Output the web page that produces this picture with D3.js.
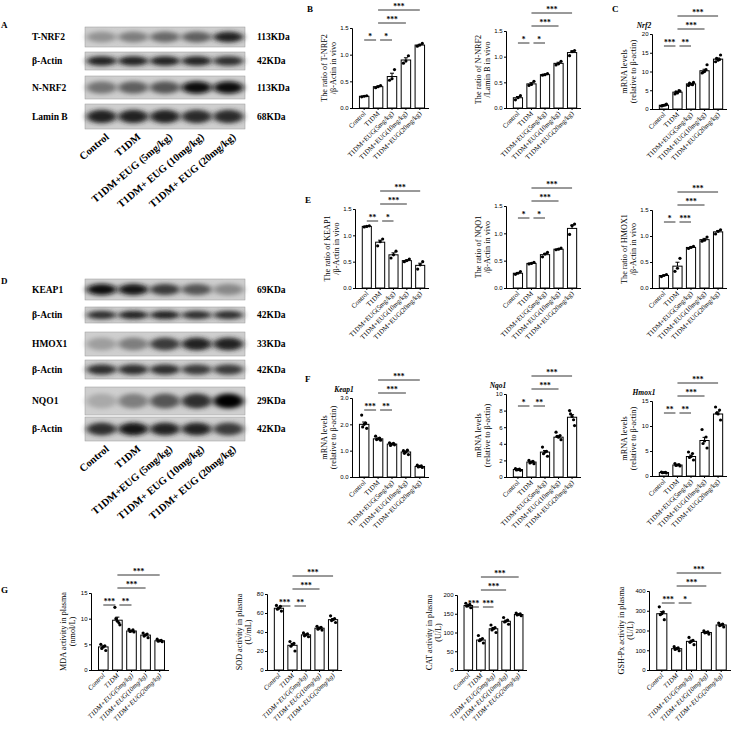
<!DOCTYPE html>
<html>
<head>
<meta charset="utf-8">
<script src="https://cdn.jsdelivr.net/npm/d3@7"></script>
<style>
  body { margin: 0; background: #fff; }
  svg { font-family: "Liberation Serif", "DejaVu Serif", serif; }
  .tick text { font-size: 6px; font-family: "Liberation Sans", sans-serif; }
  .domain, .tick line { stroke: #000; stroke-width: 1; }
</style>
</head>
<body>
<div id="chart"></div>
<script>
// groups
const groups = ["Control", "T1DM", "T1DM+EUG(5mg/kg)", "T1DM+EUG(10mg/kg)", "T1DM+EUG(20mg/kg)"];
const blotLanes = ["Control", "T1DM", "T1DM+EUG (5mg/kg)", "T1DM+ EUG (10mg/kg)", "T1DM+ EUG (20mg/kg)"];

// blot rows (band darkness per lane, 0..1)
const blotA = [
    { name: "T-NRF2", kda: "113KDa", dark: [0.35, 0.45, 0.55, 0.6, 0.85] },
    { name: "β-Actin", kda: "42KDa", dark: [0.85, 0.85, 0.85, 0.85, 0.8] },
    { name: "N-NRF2", kda: "113KDa", dark: [0.5, 0.6, 0.65, 0.95, 0.95] },
    { name: "Lamin B", kda: "68KDa", dark: [0.85, 0.85, 0.85, 0.82, 0.82] }
];
const blotD = [
    { name: "KEAP1", kda: "69KDa", dark: [0.95, 0.9, 0.75, 0.65, 0.4] },
    { name: "β-Actin", kda: "42KDa", dark: [0.8, 0.85, 0.85, 0.8, 0.8] },
    { name: "HMOX1", kda: "33KDa", dark: [0.3, 0.45, 0.75, 0.85, 0.85] },
    { name: "β-Actin", kda: "42KDa", dark: [0.8, 0.8, 0.8, 0.75, 0.75] },
    { name: "NQO1", kda: "29KDa", dark: [0.25, 0.45, 0.65, 0.8, 1.0] },
    { name: "β-Actin", kda: "42KDa", dark: [0.8, 0.9, 0.85, 0.85, 0.75] }
];

// bar values (means) and individual points
const tnrf2 = [0.22, 0.40, 0.59, 0.90, 1.18];
const tnrf2Pts = [[0.21, 0.23, 0.22], [0.38, 0.42, 0.40], [0.52, 0.72, 0.55], [0.84, 0.98, 0.88], [1.16, 1.21, 1.18]];
const nnrf2 = [0.20, 0.47, 0.65, 0.87, 1.08];
const nnrf2Pts = [[0.16, 0.24, 0.20], [0.44, 0.52, 0.46], [0.64, 0.67, 0.65], [0.84, 0.91, 0.86], [1.02, 1.12, 1.10]];
const nrf2 = [1.0, 4.5, 6.7, 10.2, 13.3];
const nrf2Pts = [[0.8, 1.3, 1.0, 0.9, 1.1], [4.0, 4.8, 4.3, 4.6, 4.9], [6.3, 7.1, 6.6, 6.9, 6.5], [9.6, 11.8, 10.0, 9.8, 10.5], [12.6, 14.4, 13.0, 13.5, 13.2]];
const keap1 = [1.17, 0.87, 0.63, 0.52, 0.43];
const keap1Pts = [[1.16, 1.18, 1.17], [0.80, 0.93, 0.88], [0.57, 0.70, 0.63], [0.50, 0.55, 0.52], [0.36, 0.50, 0.44]];
const nqo1 = [0.27, 0.45, 0.61, 0.71, 1.09];
const nqo1Pts = [[0.25, 0.30, 0.27], [0.44, 0.47, 0.45], [0.57, 0.65, 0.62], [0.70, 0.73, 0.71], [0.98, 1.17, 1.14]];
const hmox1 = [0.24, 0.42, 0.78, 0.93, 1.08];
const hmox1Pts = [[0.22, 0.26, 0.24], [0.32, 0.57, 0.38], [0.76, 0.80, 0.78], [0.90, 0.98, 0.92], [1.04, 1.12, 1.09]];
const keap1m = [2.0, 1.45, 1.25, 0.95, 0.4];
const keap1mPts = [[2.35, 1.85, 2.0, 1.9, 2.05], [1.55, 1.40, 1.45, 1.42, 1.48], [1.30, 1.22, 1.25, 1.20, 1.28], [1.0, 0.85, 0.95, 0.90, 1.02], [0.45, 0.36, 0.40, 0.38, 0.42]];
const nqo1m = [0.9, 1.8, 3.0, 4.8, 7.2];
const nqo1mPts = [[1.0, 0.8, 0.9, 0.85, 0.95], [2.0, 1.6, 1.8, 1.7, 1.9], [3.6, 2.5, 3.0, 2.8, 3.1], [5.4, 4.5, 4.8, 4.9, 5.0], [8.0, 6.2, 7.3, 7.6, 6.9]];
const hmox1m = [0.7, 2.2, 3.9, 7.1, 12.4];
const hmox1mPts = [[0.8, 0.6, 0.7, 0.65, 0.75], [2.5, 2.0, 2.2, 2.1, 2.3], [4.8, 3.2, 3.9, 3.7, 4.5], [9.3, 5.6, 7.0, 6.5, 7.8], [13.8, 11.2, 12.4, 12.6, 13.2]];
const mda = [4.5, 9.7, 7.6, 6.8, 5.7];
const mdaPts = [[5.0, 3.8, 4.5, 4.2, 4.7], [12.2, 8.8, 9.5, 10.0, 9.2], [7.9, 7.4, 7.6, 7.5, 7.8], [7.2, 6.3, 6.8, 6.6, 7.0], [6.0, 5.5, 5.7, 5.6, 5.8]];
const sod = [65, 26, 37, 44, 53];
const sodPts = [[68, 62, 65, 64, 67], [30, 20, 27, 25, 28], [39, 35, 37, 36, 38], [46, 42, 44, 43, 45], [57, 50, 53, 52, 54]];
const cat = [172, 80, 110, 130, 148];
const catPts = [[178, 166, 172, 170, 175], [92, 72, 80, 78, 84], [120, 100, 110, 107, 113], [140, 122, 130, 128, 133], [152, 145, 148, 147, 150]];
const gsh = [285, 108, 145, 190, 228];
const gshPts = [[320, 255, 285, 280, 295], [118, 98, 108, 104, 112], [165, 128, 145, 140, 150], [198, 182, 190, 188, 193], [238, 218, 228, 225, 232]];

// significance: [from, to, label]
const sigB = [[0, 1, "*"], [1, 2, "*"], [1, 3, "***"], [1, 4, "***"]];
const sigC = [[0, 1, "***"], [1, 2, "**"], [1, 3, "***"], [1, 4, "***"]];
const sigE1 = [[0, 1, "**"], [1, 2, "*"], [1, 3, "***"], [1, 4, "***"]];
const sigE3 = [[0, 1, "*"], [1, 2, "***"], [1, 3, "***"], [1, 4, "***"]];
const sigF2 = [[0, 1, "*"], [1, 2, "**"], [1, 3, "***"], [1, 4, "***"]];
const sigF3 = [[0, 1, "**"], [1, 2, "**"], [1, 3, "***"], [1, 4, "***"]];
const sigG1 = [[0, 1, "***"], [1, 2, "**"], [1, 3, "***"], [1, 4, "***"]];
const sigG3 = [[0, 1, "***"], [1, 2, "***"], [1, 3, "***"], [1, 4, "***"]];
const sigG4 = [[0, 1, "***"], [1, 2, "*"], [1, 3, "***"], [1, 4, "***"]];

const jitter = [-2.5, 2.5, 0, -1.5, 1.5];

const svg = d3.select("#chart").append("svg")
    .attr("width", 735).attr("height", 752);

svg.append("defs").append("filter").attr("id", "blur")
    .attr("x", "-30%").attr("y", "-60%").attr("width", "160%").attr("height", "220%")
    .append("feGaussianBlur").attr("stdDeviation", "3 2.2");

// panel letters
[["A", 1, 28], ["B", 307, 12], ["C", 612, 12], ["D", 1, 284], ["E", 305, 203], ["F", 305, 382], ["G", 1, 593]]
    .forEach(([t, x, y]) => svg.append("text").attr("x", x).attr("y", y)
        .attr("font-size", 9).attr("font-weight", "bold").text(t));

function blot(rows, bounds, labelY) {
    let lane = d3.scaleBand().domain(d3.range(5)).range([85, 245]).padding(0.05);
    rows.forEach((r, i) => {
        let [y0, y1] = bounds[i];
        let g = svg.append("g");
        g.append("rect").attr("x", 85).attr("y", y0).attr("width", 160).attr("height", y1 - y0)
            .attr("fill", "#cfcfcf").attr("stroke", "#999").attr("stroke-width", 0.5);
        g.selectAll("ellipse").data(r.dark).enter().append("ellipse")
            .attr("cx", (d, j) => lane(j) + lane.bandwidth() / 2)
            .attr("cy", (y0 + y1) / 2)
            .attr("rx", lane.bandwidth() * 0.5)
            .attr("ry", (y1 - y0) * 0.27)
            .attr("fill", d => d3.interpolateGreys(0.25 + d * 0.75))
            .attr("filter", "url(#blur)");
        svg.append("text").attr("x", 32).attr("y", (y0 + y1) / 2 + 3)
            .attr("font-size", 9.5).attr("font-weight", "bold").text(r.name);
        svg.append("text").attr("x", 257).attr("y", (y0 + y1) / 2 + 3)
            .attr("font-size", 9.5).attr("font-weight", "bold").text(r.kda);
    });
    blotLanes.forEach((t, j) => {
        let x = lane(j) + lane.bandwidth() / 2 + 8;
        svg.append("text").attr("transform", `translate(${x},${labelY}) rotate(-40)`)
            .attr("text-anchor", "end").attr("font-size", 10.5).attr("font-weight", "bold").text(t);
    });
}

blot(blotA, [[27, 47], [52, 70], [76, 99], [104, 129]], 138);
blot(blotD, [[279, 300], [307, 323], [332, 356], [360, 379], [387, 415], [417, 441]], 450);

function panel(o) {
    let g = svg.append("g");
    let x = d3.scaleBand().domain(groups).range([o.x0 + 3, o.x1]).padding(0.32);
    let y = d3.scaleLinear().domain([0, o.max]).range([o.y1, o.y0]);

    g.append("g").attr("transform", `translate(${o.x0},0)`)
        .call(d3.axisLeft(y).tickValues(o.ticks).tickSize(2).tickPadding(1.5));
    let xa = g.append("g").attr("transform", `translate(0,${o.y1})`)
        .call(d3.axisBottom(x).tickSize(2).tickFormat(""));
    xa.select(".domain").attr("d", `M${o.x0},0.5H${o.x1}`);

    g.selectAll(".bar").data(o.values).enter().append("rect")
        .attr("x", (d, i) => x(groups[i]))
        .attr("y", d => y(d))
        .attr("width", x.bandwidth())
        .attr("height", d => o.y1 - y(d))
        .attr("fill", "#fff").attr("stroke", "#000").attr("stroke-width", 1);

    // SEM error bars
    o.points.forEach((p, i) => {
        let sem = d3.deviation(p) / Math.sqrt(p.length);
        let cx = x(groups[i]) + x.bandwidth() / 2;
        let m = o.values[i];
        g.append("line").attr("x1", cx).attr("x2", cx).attr("y1", y(m)).attr("y2", y(m + sem)).attr("stroke", "#000");
        g.append("line").attr("x1", cx - 2).attr("x2", cx + 2).attr("y1", y(m + sem)).attr("y2", y(m + sem)).attr("stroke", "#000");
        g.selectAll(null).data(p).enter().append("circle")
            .attr("cx", (d, k) => cx + jitter[k % jitter.length])
            .attr("cy", d => y(d)).attr("r", 1.6).attr("fill", "#000");
    });

    // labels
    groups.forEach((t, i) => {
        let cx = x(t) + x.bandwidth() / 2 + 2;
        g.append("text").attr("transform", `translate(${cx},${o.y1 + 6}) rotate(-45)`)
            .attr("text-anchor", "end").attr("font-size", 6.8)
            .attr("font-style", o.italicX ? "italic" : "normal").text(t);
    });
    let ym = (o.y0 + o.y1) / 2;
    o.ylab.forEach((t, k) => {
        g.append("text").attr("transform", `translate(${o.x0 - 25 + k * 8.5},${ym}) rotate(-90)`)
            .attr("text-anchor", "middle").attr("font-size", 8.2).text(t);
    });
    if (o.title) {
        g.append("text").attr("x", o.x0 - 8).attr("y", o.y0 - 6).attr("text-anchor", "middle")
            .attr("font-size", 7.5).attr("font-style", "italic").attr("font-weight", "bold").text(o.title);
    }

    // significance
    let levels = [o.y0 + 12, o.y0 + 12, o.y0 - 5, o.y0 - 18];
    o.sig.forEach(([a, b, s], k) => {
        let xa0 = x(groups[a]) + x.bandwidth() / 2, xb0 = x(groups[b]) + x.bandwidth() / 2;
        let ly = levels[k];
        if (k < 2) { xa0 += k === 0 ? 0 : 2; xb0 -= k === 0 ? 2 : 0; }
        g.append("line").attr("x1", xa0).attr("x2", xb0).attr("y1", ly).attr("y2", ly)
            .attr("stroke", "#000").attr("stroke-width", 0.8);
        g.append("text").attr("x", (xa0 + xb0) / 2).attr("y", ly - 1.5).attr("text-anchor", "middle")
            .attr("font-size", 7.5).attr("font-weight", "bold").text(s);
    });
}

const ratioTicks = [0, 0.5, 1.0, 1.5];

panel({ x0: 352, x1: 429, y0: 28, y1: 108, max: 1.5, ticks: ratioTicks, values: tnrf2, points: tnrf2Pts, sig: sigB, ylab: ["The ratio of T-NRF2", "/β-Actin in vivo"] });
panel({ x0: 506, x1: 581, y0: 31, y1: 108, max: 1.5, ticks: ratioTicks, values: nnrf2, points: nnrf2Pts, sig: sigB, ylab: ["The ratio of N-NRF2", "/Lamin B in vivo"] });
panel({ x0: 652, x1: 727, y0: 34, y1: 109, max: 20, ticks: [0, 5, 10, 15, 20], values: nrf2, points: nrf2Pts, sig: sigC, ylab: ["mRNA levels", "(relative to β-actin)"], title: "Nrf2" });

panel({ x0: 355, x1: 429, y0: 209, y1: 288, max: 1.5, ticks: ratioTicks, values: keap1, points: keap1Pts, sig: sigE1, ylab: ["The ratio of KEAP1", "/β-Actin in vivo"] });
panel({ x0: 506, x1: 581, y0: 206, y1: 288, max: 1.5, ticks: ratioTicks, values: nqo1, points: nqo1Pts, sig: sigB, ylab: ["The ratio of NQO1", "/β-Actin in vivo"] });
panel({ x0: 652, x1: 727, y0: 210, y1: 288, max: 1.5, ticks: ratioTicks, values: hmox1, points: hmox1Pts, sig: sigE3, ylab: ["The ratio of HMOX1", "/β-Actin in vivo"] });

panel({ x0: 352, x1: 429, y0: 398, y1: 477, max: 3, ticks: [0, 1, 2, 3], values: keap1m, points: keap1mPts, sig: sigC, ylab: ["mRNA levels", "(relative to β-actin)"], title: "Keap1" });
panel({ x0: 506, x1: 581, y0: 394, y1: 477, max: 10, ticks: [0, 2, 4, 6, 8, 10], values: nqo1m, points: nqo1mPts, sig: sigF2, ylab: ["mRNA levels", "(relative to β-actin)"], title: "Nqo1" });
panel({ x0: 652, x1: 727, y0: 401, y1: 476, max: 15, ticks: [0, 5, 10, 15], values: hmox1m, points: hmox1mPts, sig: sigF3, ylab: ["mRNA levels", "(relative to β-actin)"], title: "Hmox1" });

panel({ x0: 91, x1: 169, y0: 593, y1: 670, max: 15, ticks: [0, 5, 10, 15], values: mda, points: mdaPts, sig: sigG1, ylab: ["MDA activity in plasma", "(nmol/L)"], italicX: true });
panel({ x0: 267, x1: 342, y0: 594, y1: 670, max: 80, ticks: [0, 20, 40, 60, 80], values: sod, points: sodPts, sig: sigG1, ylab: ["SOD activity in plasma", "(U/mL)"], italicX: true });
panel({ x0: 457, x1: 527, y0: 595, y1: 670, max: 200, ticks: [0, 50, 100, 150, 200], values: cat, points: catPts, sig: sigG3, ylab: ["CAT activity in plasma", "(U/L)"], italicX: true });
panel({ x0: 649, x1: 731, y0: 591, y1: 670, max: 400, ticks: [0, 100, 200, 300, 400], values: gsh, points: gshPts, sig: sigG4, ylab: ["GSH-Px activity in plasma", "(U/L)"], italicX: true });
</script>
</body>
</html>
